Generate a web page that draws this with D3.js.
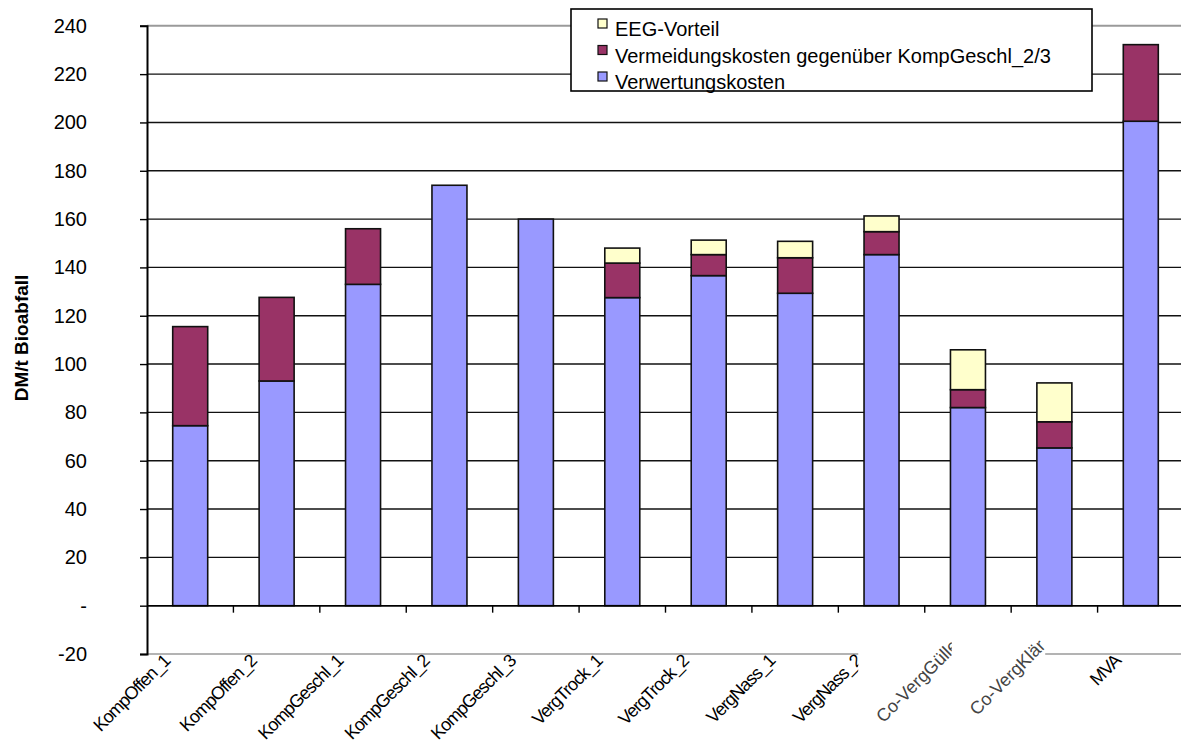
<!DOCTYPE html>
<html lang="de">
<head>
<meta charset="UTF-8">
<script src="https://d3js.org/d3.v7.min.js"></script>
<style>
body{
	margin: 0;
	background-color: white;
	font-family: "Liberation Sans", Arial, sans-serif;
}
</style>
</head>
<body>
<svg width="1181" height="747"></svg>
<script>
// data (DM/t Bioabfall)
const categories = ["KompOffen_1", "KompOffen_2", "KompGeschl_1", "KompGeschl_2", "KompGeschl_3",
	"VergTrock_1", "VergTrock_2", "VergNass_1", "VergNass_2", "Co-VergGülle", "Co-VergKlär", "MVA"]
const verwertung = [74.5, 93, 133, 174, 160, 127.5, 136.6, 129.3, 145.3, 82, 65.3, 200.5]
const vermeidung = [41, 34.6, 23, 0, 0, 14.3, 8.7, 14.7, 9.5, 7.4, 10.8, 31.7]
const eeg = [0, 0, 0, 0, 0, 6.2, 6, 6.8, 6.5, 16.5, 16.1, 0]
const seriesNames = ["EEG-Vorteil", "Vermeidungskosten gegenüber KompGeschl_2/3", "Verwertungskosten"]
const seriesColors = ["#FFFFCC", "#993366", "#9999FF"]
const yTicks = [-20, 0, 20, 40, 60, 80, 100, 120, 140, 160, 180, 200, 220, 240]
const coLabels = ["Co-VergGülle", "Co-VergKlär"]

const svg = d3.select("svg")

const x = d3.scaleBand()
	.domain(categories)
	.range([147, 1184])

const y = d3.scaleLinear()
	.domain([-20, 240])
	.range([654, 25.8])

const barW = x.bandwidth() * 0.405

// gridlines
svg.append("g").selectAll("line")
	.data(yTicks)
	.join("line")
	.attr("x1", x.range()[0])
	.attr("x2", x.range()[1])
	.attr("y1", d => y(d))
	.attr("y2", d => y(d))
	.style("stroke", d => (d == 240 || d == -20) ? "#9a9a9a" : "#111")
	.style("stroke-width", d => d == 240 ? 2 : 1.4)

// stacked bars
let stacks = categories.map((c, i) => ({cat: c, v: verwertung[i], m: vermeidung[i], e: eeg[i]}))
let stack = d3.stack().keys(["v", "m", "e"])(stacks)
let colorFor = {v: seriesColors[2], m: seriesColors[1], e: seriesColors[0]}

svg.append("g").selectAll("g")
	.data(stack)
	.join("g")
	.style("fill", d => colorFor[d.key])
	.selectAll("rect")
	.data(d => d.filter(s => s[1] - s[0] > 0))
	.join("rect")
	.attr("x", d => x(d.data.cat) + (x.bandwidth() - barW) / 2)
	.attr("width", barW)
	.attr("y", d => y(d[1]))
	.attr("height", d => y(d[0]) - y(d[1]))
	.style("stroke", "#111")
	.style("stroke-width", 1.6)

// zero axis with ticks at band boundaries
svg.append("line")
	.attr("x1", x.range()[0]).attr("x2", x.range()[1])
	.attr("y1", y(0)).attr("y2", y(0))
	.style("stroke", "#000").style("stroke-width", 1.6)
svg.append("g").selectAll("line")
	.data(categories.slice(1))
	.join("line")
	.attr("x1", d => x(d)).attr("x2", d => x(d))
	.attr("y1", y(0)).attr("y2", y(0) + 7)
	.style("stroke", "#000").style("stroke-width", 1.4)

// y axis
const yAxis = svg.append("g")
	.attr("transform", "translate(" + x.range()[0] + ",0)")
	.call(d3.axisLeft(y).tickValues(yTicks).tickSize(7).tickPadding(53)
		.tickFormat(d => d == 0 ? "-" : d))
yAxis.select(".domain").style("stroke", "#000").style("stroke-width", 2)
yAxis.selectAll(".tick line").style("stroke", "#000").style("stroke-width", 1.4)
yAxis.selectAll(".tick text")
	.style("font-family", "'Liberation Sans', Arial, sans-serif")
	.style("font-size", "20px")
	.style("fill", "#000")

svg.append("text")
	.attr("transform", "translate(28,338) rotate(-90)")
	.attr("text-anchor", "middle")
	.style("font-weight", "bold")
	.style("font-size", "19px")
	.text("DM/t Bioabfall")

// category labels
let clip = svg.append("defs").append("clipPath").attr("id", "gclip")
clip.append("rect")
	.attr("x", 0).attr("y", 0)
	.attr("width", x("Co-VergGülle") + x.bandwidth() / 2 - 16)
	.attr("height", 747)

let labelG = svg.append("g")
categories.forEach(function(c) {
	let co = coLabels.indexOf(c) != -1
	let cx = x(c) + x.bandwidth() / 2
	let px = co ? cx - 8 : cx - 19
	let py = co ? y(-20) - 7 : y(-20) + 8
	let g = labelG.append("g")
	if (c == "Co-VergGülle") g.attr("clip-path", "url(#gclip)")
	let bg = g.append("rect").style("fill", "white")
	let t = g.append("text")
		.attr("transform", "translate(" + px + "," + py + ") rotate(-45)")
		.attr("text-anchor", "end")
		.style("font-size", "18px")
		.style("letter-spacing", co ? "0px" : "-1px")
		.style("fill", co ? "#444" : "#000")
		.text(c)
	if (co) {
		let r = t.node().getBoundingClientRect()
		bg.attr("x", r.left - 14).attr("y", r.top - 4)
			.attr("width", r.width + 10).attr("height", r.height + 8)
	} else {
		bg.remove()
	}
})

// legend
let legend = svg.append("g").attr("transform", "translate(571,9)")
legend.append("rect")
	.attr("width", 521).attr("height", 82)
	.style("fill", "white").style("stroke", "#000").style("stroke-width", 1.6)
let items = legend.selectAll(".item")
	.data(seriesNames)
	.join("g")
	.attr("transform", (d, i) => "translate(0," + (i * 26.5) + ")")
items.append("rect")
	.attr("x", 27).attr("y", 10)
	.attr("width", 9).attr("height", 9)
	.style("fill", (d, i) => seriesColors[i])
	.style("stroke", "#111").style("stroke-width", 1.2)
items.append("text")
	.attr("x", 44).attr("y", 27)
	.style("font-size", "20px")
	.text(d => d)
</script>
</body>
</html>
